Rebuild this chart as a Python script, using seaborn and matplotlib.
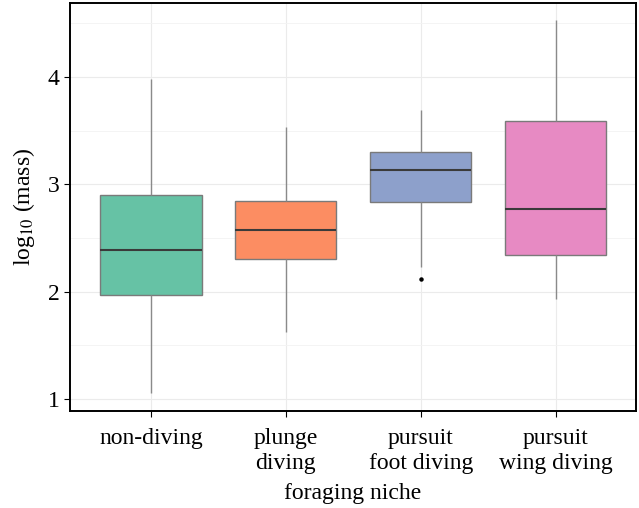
import pandas as pd
import matplotlib.pyplot as plt
import seaborn as sns
from matplotlib.ticker import MultipleLocator

# log10 mass per foraging niche, values picked so the box stats match the figure
# order in each list: min, -, q1, -, median, -, q3, -, max
non_diving = [1.06, 1.60, 1.972, 2.20, 2.385, 2.60, 2.904, 3.40, 3.98]
plunge_diving = [1.63, 2.00, 2.304, 2.45, 2.580, 2.70, 2.845, 3.20, 3.537]
pursuit_foot = [2.12, 2.23, 2.835, 3.00, 3.136, 3.22, 3.304, 3.50, 3.695]
pursuit_wing = [1.932, 2.10, 2.344, 2.55, 2.776, 3.20, 3.593, 4.00, 4.528]

niches = ["non-diving", "plunge\ndiving", "pursuit\nfoot diving", "pursuit\nwing diving"]
groups = [non_diving, plunge_diving, pursuit_foot, pursuit_wing]

rows = []
for niche, vals in zip(niches, groups):
    for v in vals:
        rows.append({"niche": niche, "log_mass": v})
df = pd.DataFrame(rows)

sns.set_theme(style="white")
plt.rcParams["font.family"] = ["Liberation Serif", "DejaVu Serif"]
plt.rcParams["mathtext.fontset"] = "stix"

fig = plt.figure(figsize=(6.39, 5.08), dpi=100)
ax = fig.add_axes([0.1096, 0.191, 0.8854, 0.803])

sns.boxplot(
    data=df, x="niche", y="log_mass", hue="niche", order=niches,
    palette="Set2", saturation=1, legend=False, width=0.75, ax=ax,
    linewidth=1.0, linecolor="#7a7a7a",
    showcaps=False,
    medianprops={"color": "#3a3a3a", "linewidth": 1.5},
    whiskerprops={"color": "#8a8a8a", "linewidth": 1.0},
    boxprops={"edgecolor": "#7a7a7a", "linewidth": 1.0},
    flierprops={"marker": "o", "markersize": 2.2, "markerfacecolor": "black",
                "markeredgecolor": "black"},
)

ax.set_ylim(0.89, 4.69)
ax.set_xlim(-0.6, 3.595)
ax.yaxis.set_major_locator(MultipleLocator(1))
ax.yaxis.set_minor_locator(MultipleLocator(0.5))
ax.set_axisbelow(True)
ax.grid(which="major", color="#ebebeb", linewidth=0.8)
ax.grid(which="minor", axis="y", color="#f3f3f3", linewidth=0.6)

for s in ax.spines.values():
    s.set_color("black")
    s.set_linewidth(1.4)

ax.tick_params(axis="both", which="major", direction="out", length=4, width=0.8,
               color="black", labelsize=17, labelcolor="black", bottom=True, left=True)
ax.tick_params(axis="x", pad=8)
ax.tick_params(axis="y", which="minor", length=0)
for lbl in ax.get_xticklabels():
    lbl.set_linespacing(1.25)
ax.set_xlabel("foraging niche", fontsize=17, labelpad=7, color="black")
ax.set_ylabel(r"log$_{10}$ (mass)", fontsize=17, labelpad=8, color="black")

fig.savefig("out.png", dpi=100)
